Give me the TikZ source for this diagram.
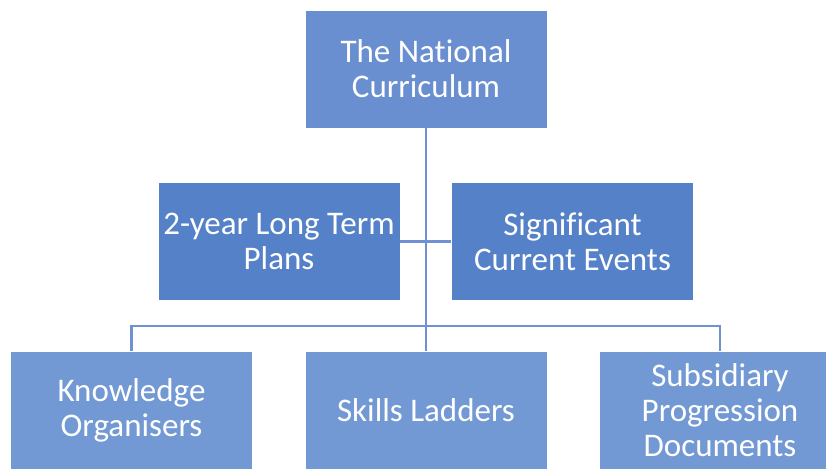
\documentclass[tikz,border=0pt]{standalone}
\usepackage{fontspec}
\setmainfont[RawFeature={-liga;-clig;-calt}]{Carlito}
\usepackage{xcolor}
\usetikzlibrary{positioning, calc}

\definecolor{topblue}{HTML}{6A8FD0}
\definecolor{midblue}{HTML}{5581C8}
\definecolor{lowblue}{HTML}{7299D4}
\definecolor{linkblue}{HTML}{6F90D2}

\begin{document}
\begin{tikzpicture}[
                x=1pt, y=-1pt,
                box/.style={rectangle, draw=white, line width=0.8pt, text=white,
                    minimum width=242pt, minimum height=118pt, align=center,
                    font=\fontsize{33}{35}\selectfont, inner sep=0pt},
                toplevel/.style={fill=topblue},
                midlevel/.style={fill=midblue},
                lowlevel/.style={fill=lowblue},
                link/.style={draw=linkblue, line width=2.2pt}
            ]
                \useasboundingbox (0,0) rectangle (826,468);
                \clip (0,0) rectangle (826,468);
                \fill[white] (0,0) rectangle (826,468);

                % Nodes
                \node[box, toplevel] (natcurr) at (426,69) {The National\\Curriculum};
                \node[box, midlevel] (ltp) at (279,241.5) {2-year Long Term\\Plans};
                \node[box, midlevel] (events) at (572.5,241.5) {Significant\\Current Events};
                \node[box, lowlevel] (knowledge) at (131.5,410) {Knowledge\\Organisers};
                \node[box, lowlevel] (skills) at (426,410) {Skills Ladders};
                \node[box, lowlevel] (subsidiary) at (720,410) {Subsidiary\\Progression\\Documents};

                % Connectors
                \draw[link] (natcurr.south) -- (skills.north);
                \draw[link] (ltp.east) -- (events.west);
                \draw[link] (knowledge.north) -- ++(0,-25) -| (subsidiary.north);
            \end{tikzpicture}
\end{document}
